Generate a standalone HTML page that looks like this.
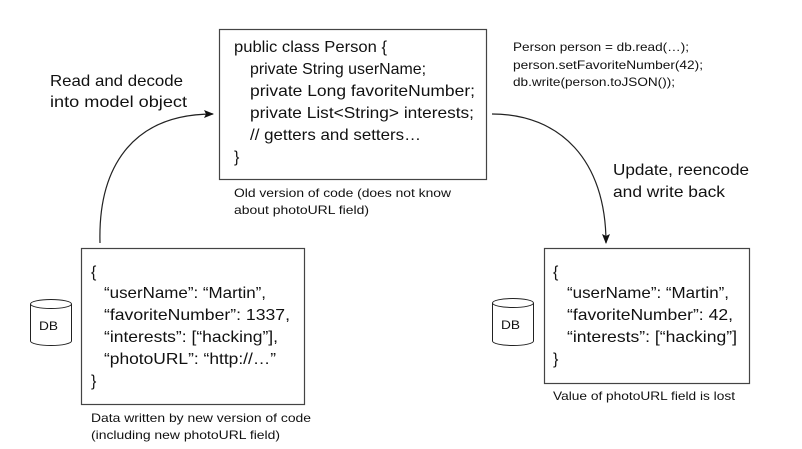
<!DOCTYPE html>
<html><head><meta charset="utf-8"><style>
html,body{margin:0;padding:0;background:#fff}
svg{display:block}
text{font-family:"Liberation Sans",sans-serif;fill:#111}
.c{font-size:16px}
.s{font-size:12px}
.m{font-size:12px}
</style></head><body>
<svg width="802" height="449" viewBox="0 0 802 449" xmlns="http://www.w3.org/2000/svg">
<defs><marker id="ah" markerWidth="10" markerHeight="8" refX="9" refY="4" orient="auto" markerUnits="userSpaceOnUse"><path d="M0,0 L10,4 L0,8 L2,4 z" fill="#111"/></marker></defs>
<g fill="none" stroke="#444" stroke-width="1.2">
<rect x="219.5" y="29.5" width="267" height="150"/>
<rect x="81.5" y="248.5" width="223" height="156"/>
<rect x="544.5" y="248.5" width="205" height="135"/>
</g>
<g fill="none" stroke="#222" stroke-width="1">
<path d="M30.5,304 A20.5,4.5 0 0 1 71.5,304 L71.5,341 A20.5,4.5 0 0 1 30.5,341 Z"/>
<path d="M30.5,304 A20.5,4.5 0 0 0 71.5,304"/>
<path d="M492.5,303 A20.5,4.5 0 0 1 533.5,303 L533.5,341 A20.5,4.5 0 0 1 492.5,341 Z"/>
<path d="M492.5,303 A20.5,4.5 0 0 0 533.5,303"/>
<path d="M100,243 C98,170 130,114 213,114" stroke-width="1.2" marker-end="url(#ah)"/>
<path d="M492,114 C560,114 606,160 606,243" stroke-width="1.2" marker-end="url(#ah)"/>
</g>
<text x="39" y="330" class="s" lengthAdjust="spacingAndGlyphs" textLength="19">DB</text>
<text x="501" y="329" class="s" lengthAdjust="spacingAndGlyphs" textLength="19">DB</text>
<text x="50" y="86" class="c" lengthAdjust="spacingAndGlyphs" textLength="133">Read and decode</text>
<text x="50" y="107" class="c" lengthAdjust="spacingAndGlyphs" textLength="137">into model object</text>
<text x="613" y="175" class="c" lengthAdjust="spacingAndGlyphs" textLength="136">Update, reencode</text>
<text x="613" y="197" class="c" lengthAdjust="spacingAndGlyphs" textLength="112">and write back</text>
<text x="234" y="52" class="c" lengthAdjust="spacingAndGlyphs" textLength="153">public class Person {</text>
<text x="250" y="74" class="c" lengthAdjust="spacingAndGlyphs" textLength="176">private String userName;</text>
<text x="250" y="96" class="c" lengthAdjust="spacingAndGlyphs" textLength="225">private Long favoriteNumber;</text>
<text x="250" y="118" class="c" lengthAdjust="spacingAndGlyphs" textLength="224">private List&lt;String&gt; interests;</text>
<text x="250" y="140" class="c" lengthAdjust="spacingAndGlyphs" textLength="171">// getters and setters…</text>
<text x="234" y="162" class="c">}</text>
<text x="513" y="51" class="m" lengthAdjust="spacingAndGlyphs" textLength="176">Person person = db.read(…);</text>
<text x="513" y="69" class="m" lengthAdjust="spacingAndGlyphs" textLength="190">person.setFavoriteNumber(42);</text>
<text x="513" y="86" class="m" lengthAdjust="spacingAndGlyphs" textLength="162">db.write(person.toJSON());</text>
<text x="234" y="197" class="s" lengthAdjust="spacingAndGlyphs" textLength="217">Old version of code (does not know</text>
<text x="234" y="214" class="s" lengthAdjust="spacingAndGlyphs" textLength="135">about photoURL field)</text>
<text x="91" y="277" class="c">{</text>
<text x="104" y="298" class="c" lengthAdjust="spacingAndGlyphs" textLength="162">“userName”: “Martin”,</text>
<text x="104" y="320" class="c" lengthAdjust="spacingAndGlyphs" textLength="186">“favoriteNumber”: 1337,</text>
<text x="104" y="342" class="c" lengthAdjust="spacingAndGlyphs" textLength="174">“interests”: [“hacking”],</text>
<text x="104" y="364" class="c" lengthAdjust="spacingAndGlyphs" textLength="172">“photoURL”: “http://…”</text>
<text x="91" y="386" class="c">}</text>
<text x="91" y="422" class="s" lengthAdjust="spacingAndGlyphs" textLength="220">Data written by new version of code</text>
<text x="91" y="439" class="s" lengthAdjust="spacingAndGlyphs" textLength="189">(including new photoURL field)</text>
<text x="553" y="277" class="c">{</text>
<text x="567" y="298" class="c" lengthAdjust="spacingAndGlyphs" textLength="162">“userName”: “Martin”,</text>
<text x="567" y="320" class="c" lengthAdjust="spacingAndGlyphs" textLength="166">“favoriteNumber”: 42,</text>
<text x="567" y="342" class="c" lengthAdjust="spacingAndGlyphs" textLength="170">“interests”: [“hacking”]</text>
<text x="553" y="364" class="c">}</text>
<text x="553" y="400" class="s" lengthAdjust="spacingAndGlyphs" textLength="182">Value of photoURL field is lost</text>
</svg>
</body></html>
